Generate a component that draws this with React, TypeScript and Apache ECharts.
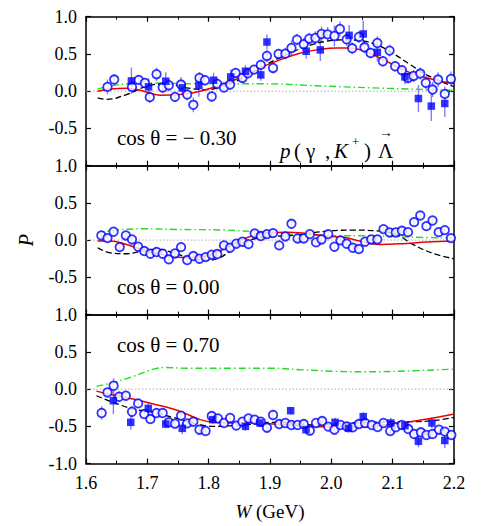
import React, { useEffect, useRef } from "react";
import * as echarts from "echarts";

const FONT = "'Liberation Serif', 'Times New Roman', serif";

// ---- Data: [W, P, error] ----
const circles1 = [
  [1.635,0.058,0.10],[1.646,0.156,0.07],[1.675,0.058,0.08],[1.686,0.152,0.06],[1.696,0.11,0.06],[1.704,-0.08,0.08],[1.715,0.228,0.09],[1.725,0.05,0.07],[1.735,0.08,0.08],[1.745,-0.076,0.07],[1.755,0.089,0.10],[1.765,-0.045,0.08],[1.775,-0.183,0.10],[1.785,0.178,0.08],[1.794,0.147,0.07],[1.805,-0.071,0.07],[1.814,0.098,0.08],[1.825,0.049,0.06],[1.835,0.089,0.07],[1.844,0.245,0.06],[1.855,0.178,0.06],[1.864,0.241,0.07],[1.874,0.29,0.06],[1.885,0.353,0.07],[1.895,0.473,0.08],[1.905,0.312,0.07],[1.914,0.5,0.07],[1.925,0.504,0.08],[1.935,0.58,0.10],[1.944,0.692,0.08],[1.955,0.63,0.08],[1.964,0.705,0.08],[1.974,0.714,0.09],[1.984,0.768,0.10],[1.994,0.763,0.10],[2.005,0.741,0.14],[2.014,0.835,0.10],[2.025,0.696,0.09],[2.034,0.576,0.08],[2.045,0.728,0.08],[2.054,0.589,0.08],[2.064,0.513,0.07],[2.075,0.647,0.09],[2.084,0.402,0.07],[2.095,0.545,0.08],[2.104,0.335,0.07],[2.115,0.281,0.07],[2.125,0.178,0.07],[2.134,0.205,0.08],[2.145,0.237,0.08],[2.154,0.112,0.09],[2.165,0.022,0.10],[2.174,0.156,0.10],[2.185,-0.036,0.10],[2.195,0.165,0.10],
];
const squares1 = [
  [1.674,0.138,0.18],[1.702,0.058,0.12],[1.73,0.134,0.12],[1.757,0.045,0.10],[1.784,0.076,0.15],[1.808,0.147,0.10],[1.836,0.192,0.10],[1.86,0.268,0.08],[1.885,0.219,0.08],[1.895,0.66,0.10],[1.959,0.536,0.10],[1.982,0.554,0.15],[2.029,0.75,0.14],[2.052,0.768,0.18],[2.075,0.522,0.12],[2.12,0.192,0.10],[2.142,-0.098,0.18],[2.163,-0.2,0.2],[2.185,-0.165,0.18],
];
const red1 = [[1.619,0],[1.64,0.03],[1.666,0.04],[1.69,0.01],[1.7205,-0.054],[1.753,-0.045],[1.775,-0.02],[1.786,0],[1.818,0.076],[1.851,0.18],[1.883,0.31],[1.916,0.42],[1.9486,0.51],[1.981,0.56],[2.008,0.58],[2.0246,0.58],[2.046,0.56],[2.068,0.49],[2.09,0.40],[2.122,0.27],[2.155,0.18],[2.2,0.10]];
const black1 = [[1.619,-0.09],[1.634,-0.11],[1.666,-0.045],[1.699,0.067],[1.731,0.10],[1.764,0.045],[1.797,0.02],[1.829,0.09],[1.862,0.2],[1.894,0.36],[1.927,0.49],[1.959,0.6],[1.992,0.67],[2.019,0.69],[2.046,0.68],[2.0735,0.625],[2.1,0.51],[2.128,0.36],[2.155,0.22],[2.2,0.06]];
const green1 = [[1.619,0.03],[1.666,0.10],[1.71,0.11],[1.775,0.10],[1.883,0.10],[1.992,0.067],[2.1,0.036],[2.2,0.013]];

const circles2 = [
  [1.625,0.0625,0.04],[1.635,0.027,0.04],[1.645,0.112,0.05],[1.655,-0.094,0.05],[1.665,0.0625,0.04],[1.675,0.009,0.04],[1.685,-0.089,0.04],[1.695,-0.147,0.04],[1.705,-0.183,0.04],[1.715,-0.16,0.05],[1.725,-0.183,0.04],[1.735,-0.259,0.05],[1.745,-0.179,0.04],[1.755,-0.094,0.05],[1.765,-0.268,0.04],[1.775,-0.214,0.04],[1.785,-0.25,0.04],[1.795,-0.228,0.04],[1.805,-0.196,0.04],[1.814,-0.1875,0.04],[1.825,-0.071,0.04],[1.835,-0.103,0.04],[1.845,-0.049,0.04],[1.855,-0.022,0.04],[1.865,-0.054,0.04],[1.875,0.089,0.04],[1.885,0.054,0.04],[1.895,0.08,0.04],[1.905,0.094,0.04],[1.915,-0.071,0.05],[1.925,0.049,0.04],[1.935,0.219,0.05],[1.945,0.022,0.04],[1.955,0.022,0.04],[1.965,0.08,0.04],[1.975,-0.031,0.04],[1.984,0.009,0.04],[1.995,0.08,0.04],[2.005,-0.089,0.04],[2.015,-0.004,0.04],[2.025,-0.049,0.04],[2.035,-0.103,0.04],[2.045,-0.12,0.05],[2.055,-0.022,0.04],[2.065,0.009,0.04],[2.075,0.009,0.04],[2.085,0.147,0.04],[2.095,0.103,0.04],[2.105,0.103,0.04],[2.115,0.125,0.04],[2.125,0.107,0.04],[2.135,0.241,0.05],[2.145,0.33,0.05],[2.155,0.1875,0.05],[2.165,0.263,0.05],[2.175,0.107,0.05],[2.185,0.134,0.05],[2.195,0.027,0.05],
];
const red2 = [[1.619,-0.013],[1.639,-0.013],[1.666,-0.058],[1.699,-0.147],[1.731,-0.205],[1.764,-0.237],[1.797,-0.214],[1.829,-0.103],[1.862,0.031],[1.894,0.098],[1.927,0.107],[1.959,0.089],[1.992,0.054],[2.0246,0.031],[2.046,-0.013],[2.079,-0.058],[2.122,-0.045],[2.155,-0.027],[2.2,-0.013]];
const black2 = [[1.619,-0.103],[1.639,-0.17],[1.666,-0.183],[1.699,-0.134],[1.7205,-0.125],[1.742,-0.17],[1.775,-0.25],[1.797,-0.27],[1.818,-0.237],[1.851,-0.058],[1.883,0.031],[1.938,0.0625],[1.992,0.12],[2.0355,0.134],[2.079,0.12],[2.106,0.076],[2.133,-0.058],[2.166,-0.179],[2.2,-0.25]];
const green2 = [[1.619,0.098],[1.65,0.134],[1.693,0.152],[1.748,0.143],[1.829,0.134],[1.883,0.107],[1.938,0.076],[1.992,0.0625],[2.0735,0.054],[2.128,0.04],[2.2,0.027]];

const circles3 = [
  [1.6255,-0.321,0.09],[1.635,-0.045,0.05],[1.645,0.045,0.1],[1.654,-0.103,0.07],[1.665,-0.089,0.05],[1.675,-0.304,0.08],[1.685,-0.192,0.05],[1.695,-0.335,0.05],[1.705,-0.402,0.06],[1.715,-0.321,0.05],[1.725,-0.321,0.05],[1.735,-0.446,0.05],[1.745,-0.464,0.05],[1.755,-0.357,0.06],[1.765,-0.46,0.05],[1.775,-0.4375,0.05],[1.785,-0.545,0.06],[1.795,-0.5625,0.05],[1.805,-0.362,0.05],[1.815,-0.393,0.05],[1.825,-0.455,0.04],[1.835,-0.388,0.06],[1.845,-0.49,0.05],[1.855,-0.4375,0.04],[1.865,-0.393,0.04],[1.875,-0.41,0.04],[1.885,-0.4375,0.04],[1.895,-0.518,0.05],[1.905,-0.348,0.06],[1.915,-0.469,0.04],[1.925,-0.455,0.04],[1.935,-0.482,0.04],[1.945,-0.482,0.04],[1.955,-0.469,0.04],[1.965,-0.558,0.05],[1.975,-0.455,0.04],[1.985,-0.429,0.05],[1.995,-0.504,0.04],[2.005,-0.545,0.04],[2.015,-0.482,0.04],[2.025,-0.5,0.04],[2.035,-0.513,0.04],[2.045,-0.469,0.04],[2.055,-0.455,0.04],[2.066,-0.482,0.04],[2.0755,-0.509,0.04],[2.085,-0.455,0.04],[2.096,-0.5625,0.05],[2.105,-0.513,0.05],[2.115,-0.482,0.04],[2.1255,-0.536,0.05],[2.135,-0.603,0.05],[2.146,-0.58,0.05],[2.155,-0.616,0.05],[2.165,-0.603,0.05],[2.1755,-0.545,0.05],[2.185,-0.571,0.05],[2.1957,-0.616,0.05],
];
const squares3 = [
  [1.6446,-0.156,0.18],[1.673,-0.446,0.1],[1.7016,-0.259,0.08],[1.73,-0.469,0.06],[1.757,-0.527,0.08],[1.8066,-0.41,0.06],[1.86,-0.5,0.06],[1.8837,-0.455,0.05],[1.9337,-0.29,0.05],[1.9587,-0.545,0.06],[2.006,-0.446,0.06],[2.028,-0.527,0.06],[2.052,-0.37,0.06],[2.097,-0.455,0.07],[2.12,-0.491,0.06],[2.142,-0.70,0.08],[2.164,-0.455,0.07],[2.185,-0.69,0.1],
];
const red3 = [[1.617,-0.027],[1.6446,-0.08],[1.677,-0.134],[1.71,-0.2],[1.742,-0.268],[1.764,-0.335],[1.786,-0.41],[1.808,-0.446],[1.84,-0.455],[1.873,-0.455],[1.905,-0.469],[1.938,-0.482],[1.96,-0.5],[1.9815,-0.504],[2.003,-0.5],[2.025,-0.513],[2.058,-0.504],[2.085,-0.482],[2.112,-0.455],[2.139,-0.424],[2.166,-0.388],[2.2,-0.335]];
const black3 = [[1.617,-0.089],[1.6446,-0.179],[1.677,-0.268],[1.71,-0.3125],[1.742,-0.38],[1.775,-0.455],[1.808,-0.5],[1.84,-0.49],[1.873,-0.469],[1.905,-0.446],[1.938,-0.455],[1.971,-0.482],[2.003,-0.469],[2.036,-0.455],[2.0685,-0.446],[2.101,-0.4375],[2.134,-0.4375],[2.166,-0.424],[2.2,-0.38]];
const green3 = [[1.617,0.036],[1.6446,0.089],[1.677,0.17],[1.71,0.268],[1.73,0.29],[1.764,0.28],[1.84,0.28],[1.905,0.28],[1.949,0.26],[2.003,0.24],[2.058,0.232],[2.112,0.24],[2.2,0.268]];

const panelLabels = ["cos θ = − 0.30", "cos θ = 0.00", "cos θ = 0.70"];
const xRange = [1.6, 2.2];
const yRange = [-1, 1];

const panels = [
  { circles: circles1, squares: squares1, red: red1, black: black1, green: green1 },
  { circles: circles2, squares: [] as number[][], red: red2, black: black2, green: green2 },
  { circles: circles3, squares: squares3, red: red3, black: black3, green: green3 },
];

const GRID_LEFT = 86;
const GRID_WIDTH = 368;
const GRID_TOPS = [16.7, 165.6, 314.6];
const GRID_H = 149;
const BLUE = "#0000ff";

function errRender(params: any, api: any) {
  const x = api.value(0), y = api.value(1), e = api.value(2);
  const p1 = api.coord([x, y - e]);
  const p2 = api.coord([x, y + e]);
  return {
    type: "line",
    shape: { x1: p1[0], y1: p1[1], x2: p2[0], y2: p2[1] },
    style: { stroke: "#8080ff", lineWidth: 1.4 },
  };
}

export default function App() {
  const ref = useRef<HTMLDivElement>(null);
  useEffect(() => {
    document.body.style.margin = "0";
    const chart = echarts.init(ref.current!, null, { renderer: "svg" });
    const grid: any[] = [];
    const xAxis: any[] = [];
    const yAxis: any[] = [];
    const series: any[] = [];
    const axisLine = { show: true, onZero: false, lineStyle: { color: "#000", width: 1.5 } };
    panels.forEach((p, i) => {
      grid.push({ left: GRID_LEFT, width: GRID_WIDTH, top: GRID_TOPS[i], height: GRID_H });
      const baseX = {
        gridIndex: i, type: "value", min: xRange[0], max: xRange[1], interval: 0.1,
        axisLine, splitLine: { show: false },
        axisTick: { show: true, inside: true, length: 5, lineStyle: { color: "#000", width: 1.2 } },
        minorTick: { show: true, splitNumber: 2, length: 3, lineStyle: { color: "#000", width: 1 } },
      };
      xAxis.push({
        ...baseX, position: "bottom",
        axisLabel: { show: i === 2, formatter: (v: number) => v.toFixed(1), fontSize: 18, fontFamily: FONT, color: "#000", margin: 10 },
        ...(i === 2 ? {
          name: "{i|W} (GeV)", nameLocation: "middle", nameGap: 38,
          nameTextStyle: { fontSize: 19, fontFamily: FONT, color: "#000", rich: { i: { fontStyle: "italic", fontSize: 19, fontFamily: FONT, color: "#000" } } },
        } : {}),
      });
      xAxis.push({ ...baseX, position: "top", axisLabel: { show: false } });
      const baseY = {
        gridIndex: i, type: "value", min: yRange[0], max: yRange[1], interval: 0.5,
        axisLine, splitLine: { show: false },
        axisTick: { show: true, inside: true, length: 5, lineStyle: { color: "#000", width: 1.2 } },
      };
      yAxis.push({
        ...baseY, position: "left",
        axisLabel: { showMinLabel: i === 2, formatter: (v: number) => v.toFixed(1), fontSize: 18, fontFamily: FONT, color: "#000", margin: 9 },
        ...(i === 1 ? {
          name: "P", nameLocation: "middle", nameGap: 50, nameRotate: 90,
          nameTextStyle: { fontSize: 20, fontFamily: FONT, fontStyle: "italic", color: "#000" },
        } : {}),
      });
      yAxis.push({ ...baseY, position: "right", axisLabel: { show: false } });

      const xi = i * 2, yi = i * 2;
      series.push({
        type: "line", xAxisIndex: xi, yAxisIndex: yi, data: [[xRange[0], 0], [xRange[1], 0]],
        showSymbol: false, lineStyle: { color: "#aaaaaa", width: 1, type: [1.5, 2] }, silent: true, z: 1,
      });
      series.push({
        type: "line", xAxisIndex: xi, yAxisIndex: yi, data: p.green, smooth: 0.4, showSymbol: false,
        lineStyle: { color: "#22dd22", width: 1.4, type: [7, 3, 1.5, 3] }, z: 2,
      });
      series.push({
        type: "custom", xAxisIndex: xi, yAxisIndex: yi, data: [...p.circles, ...p.squares],
        renderItem: errRender, encode: { x: 0, y: 1 }, clip: true, z: 3,
      });
      series.push({
        type: "line", xAxisIndex: xi, yAxisIndex: yi, data: p.black, smooth: 0.4, showSymbol: false,
        lineStyle: { color: "#000", width: 1.3, type: [6, 3] }, z: 4,
      });
      series.push({
        type: "line", xAxisIndex: xi, yAxisIndex: yi, data: p.red, smooth: 0.4, showSymbol: false,
        lineStyle: { color: "#ee0000", width: 1.5 }, z: 4,
      });
      series.push({
        type: "scatter", xAxisIndex: xi, yAxisIndex: yi, data: p.circles.map((d) => [d[0], d[1]]),
        symbol: "circle", symbolSize: 8.5, itemStyle: { color: "#fff", borderColor: BLUE, borderWidth: 1.8 }, z: 5,
      });
      if (p.squares.length) {
        series.push({
          type: "scatter", xAxisIndex: xi, yAxisIndex: yi, data: p.squares.map((d) => [d[0], d[1]]),
          symbol: "rect", symbolSize: 7.5, itemStyle: { color: BLUE }, z: 5,
        });
      }
    });

    const txt = (text: string, x: number, y: number, size: number, italic = false) => ({
      type: "text", x, y,
      style: {
        text, fill: "#000", verticalAlign: "middle",
        font: `${italic ? "italic " : ""}${size}px ${FONT}`,
        fontSize: size, fontFamily: FONT, fontStyle: italic ? "italic" : "normal",
      },
      z: 10,
    });
    const labelY = [137.5, 286.7, 345];
    const graphic: any[] = panelLabels.map((t, i) => txt(t, 117, labelY[i], 21));
    graphic.push(txt("p", 280, 151, 21, true));
    graphic.push(txt("(", 294, 151, 21));
    graphic.push(txt("γ", 306, 151, 21));
    graphic.push(txt(",", 325, 151, 21));
    graphic.push(txt("K", 334, 151, 21, true));
    graphic.push(txt("+", 352, 141, 13));
    graphic.push(txt(")", 364, 151, 21));
    graphic.push(txt("Λ", 378, 151, 21));
    graphic.push(txt("→", 379, 132, 14));

    chart.setOption({
      animation: false,
      backgroundColor: "#fff",
      grid, xAxis, yAxis, series, graphic,
    });
    return () => chart.dispose();
  }, []);
  return <div ref={ref} style={{ width: 491, height: 526 }} />;
}
